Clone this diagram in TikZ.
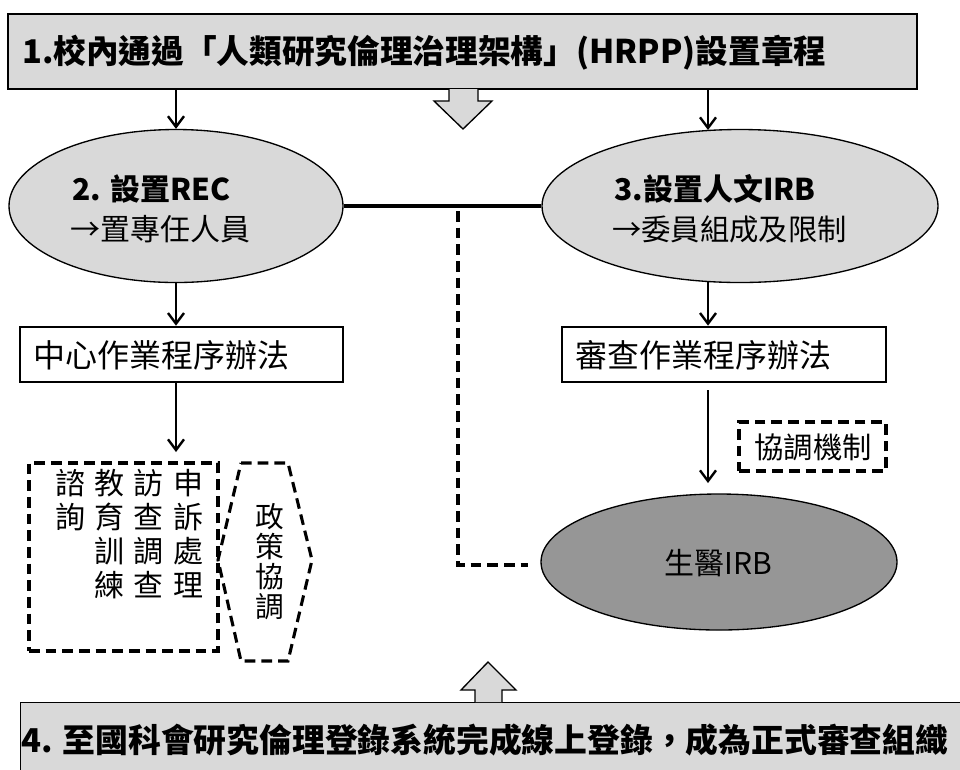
\documentclass[tikz,border=0pt]{standalone}
\usepackage{fontspec}
\setmainfont{Noto Sans CJK TC}
\usetikzlibrary{shapes.geometric,arrows.meta}
\definecolor{lg}{HTML}{D9D9D9}
\definecolor{dg}{HTML}{969696}
\begin{document}
\begin{tikzpicture}[x=0.75pt,y=-0.75pt,
  arr/.style={line width=1.8pt,-{Straight Barb[length=8pt,width=12pt,line width=1.8pt]}},
  bigbox/.style={draw=black,line width=1pt,fill=lg,rectangle,inner sep=0},
  plainbox/.style={draw=black,line width=2pt,fill=white,rectangle,inner sep=0},
  ell/.style={draw=black,line width=1pt,ellipse,inner sep=0},
  dline/.style={line width=2.3pt,dash pattern=on 8pt off 4.5pt},
  blockarrow/.style={draw=black,line width=1pt,fill=lg,line join=miter},
  txt/.style={inner sep=0,anchor=west},
  vcol/.style={inner sep=0,anchor=north,align=center,font=\fontsize{22.5}{25.5}\selectfont}
]
\useasboundingbox (0,0) rectangle (960,769);
\clip (0,0) rectangle (960,769);
\fill[white] (0,0) rectangle (960,769);

% top box
\node[bigbox,minimum width=681.75pt,minimum height=56.25pt] (top) at (462.5,51.5) {};
\node[txt,font=\fontsize{24.5}{28}\selectfont\bfseries] (toptxt) at (22,53) {1.校內通過「人類研究倫理治理架構」(HRPP)設置章程};

% down block arrow
\draw[blockarrow] (449,89) -- (449,101) -- (434,101) -- (463,129) -- (492,101) -- (478,101) -- (478,89);

% ellipses
\node[ell,fill=lg,minimum width=250.5pt,minimum height=114.75pt] (rec) at (176,206) {};
\node[ell,fill=lg,minimum width=297pt,minimum height=114.75pt] (hum) at (740,206) {};
\node[txt,font=\fontsize{22.5}{27}\selectfont\bfseries] (rec1) at (72,189) {2. 設置REC};
\node[txt,font=\fontsize{22.5}{27}\selectfont] (rec2) at (70,229) {→置專任人員};
\node[txt,font=\fontsize{22.5}{27}\selectfont\bfseries] (hum1) at (614,189) {3.設置人文IRB};
\node[txt,font=\fontsize{22}{27}\selectfont] (hum2) at (612,229) {→委員組成及限制};

% arrows from top
\coordinate (aR) at (708,130);
\draw[arr] (top.south -| rec.north) -- (rec.north);
\draw[arr] (top.south -| aR) -- (aR);

% connecting line
\draw[line width=2.6pt] (rec.east) -- (hum.west);

% procedure boxes
\node[plainbox,minimum width=242.25pt,minimum height=41.25pt] (lbox) at (181.5,354.5) {};
\node[txt,font=\fontsize{24}{28}\selectfont] (ltxt) at (33,355) {中心作業程序辦法};
\node[plainbox,minimum width=243pt,minimum height=41.25pt] (rbox) at (724,354.5) {};
\node[txt,font=\fontsize{24}{28}\selectfont] (rtxt) at (575,355) {審查作業程序辦法};

\coordinate (aR2) at (708,281);
\draw[arr] (rec.south) -- (lbox.north -| rec.south);
\draw[arr] (aR2) -- (rbox.north -| aR2);

% left dashed box with vertical text
\coordinate (lt) at (176,452);
\draw[arr] (lbox.south -| lt) -- (lt);
\node[draw,dline,rectangle,minimum width=141.75pt,minimum height=141pt,inner sep=0] (svc) at (123.5,557) {};
\node[vcol] (c1) at (70,469) {諮\\詢};
\node[vcol] (c2) at (109,469) {教\\育\\訓\\練};
\node[vcol] (c3) at (148,469) {訪\\查\\調\\查};
\node[vcol] (c4) at (188,469) {申\\訴\\處\\理};

% hexagon
\draw[dline] (241,463) -- (288,463) -- (312,560) -- (288,661) -- (241,661) -- (218,560) -- cycle;
\node[inner sep=0,align=center,font=\fontsize{21.5}{22.5}\selectfont] (pol) at (270,562) {政\\策\\協\\調};

% right lower
\node[draw,dline,rectangle,minimum width=110.25pt,minimum height=36.75pt,inner sep=0] (coord) at (812.5,446.5) {};
\node[inner sep=0,font=\fontsize{22}{26}\selectfont] (coordtxt) at (813,447) {協調機制};
\node[ell,fill=dg,minimum width=267pt,minimum height=102pt] (bio) at (719,562) {};
\node[inner sep=0,font=\fontsize{22.5}{26}\selectfont] (biotxt) at (718,563) {生醫IRB};
\coordinate (b1) at (708,390);
\coordinate (b2) at (708,483);
\draw[arr] (b1) -- (b2);

% dashed connector
\coordinate (dA) at (458,211);
\coordinate (dB) at (528,565);
\draw[dline] (dA) |- (dB);

% bottom box
\node[bigbox,minimum width=712.5pt,minimum height=60pt,anchor=north west] (bot) at (20,702) {};
\draw[blockarrow] (475,702) -- (475,690) -- (461,690) -- (488,662) -- (516,690) -- (502,690) -- (502,702);
\node[txt,font=\fontsize{24.6}{28}\selectfont\bfseries] (bottxt) at (21,740) {4. 至國科會研究倫理登錄系統完成線上登錄，成為正式審查組織};
\end{tikzpicture}
\end{document}
